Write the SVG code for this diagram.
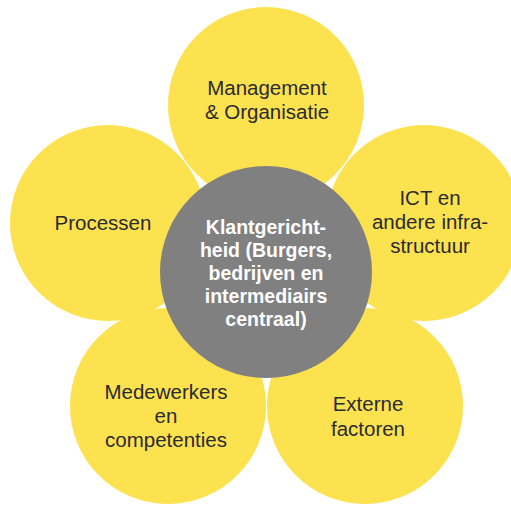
<svg xmlns="http://www.w3.org/2000/svg" width="511" height="509" viewBox="0 0 511 509">
<style>
.petal{fill:#FCE24E;}
.hub{fill:#808080;}
.lbl{font-family:"Liberation Sans","Noto Sans",Arial,sans-serif;font-size:20.5px;fill:#2A2A33;text-anchor:middle;}
.hubl{font-family:"Liberation Sans","Noto Sans",Arial,sans-serif;font-size:19.5px;font-weight:bold;fill:#FFFFFF;text-anchor:middle;}
</style>
<rect width="511" height="509" fill="#FFFFFF"/>
<g id="connectors"></g>
<g id="node-management">
<circle class="petal" cx="266" cy="105" r="98"/>
<text class="lbl" x="267" y="95">Management</text>
<text class="lbl" x="267" y="119">&amp; Organisatie</text>
</g>
<g id="node-processen">
<circle class="petal" cx="108" cy="223" r="98"/>
<text class="lbl" x="103" y="230">Processen</text>
</g>
<g id="node-ict">
<circle class="petal" cx="424" cy="223" r="98"/>
<text class="lbl" x="430" y="205">ICT en</text>
<text class="lbl" x="430" y="229">andere infra-</text>
<text class="lbl" x="430" y="253">structuur</text>
</g>
<g id="node-medewerkers">
<circle class="petal" cx="168" cy="406" r="98"/>
<text class="lbl" x="166" y="399">Medewerkers</text>
<text class="lbl" x="166" y="423">en</text>
<text class="lbl" x="166" y="447">competenties</text>
</g>
<g id="node-externe">
<circle class="petal" cx="365" cy="406" r="98"/>
<text class="lbl" x="368" y="411">Externe</text>
<text class="lbl" x="368" y="436">factoren</text>
</g>
<g id="node-klant">
<circle class="hub" cx="266" cy="272" r="106"/>
<text class="hubl" x="266" y="234">Klantgericht-</text>
<text class="hubl" x="266" y="257">heid (Burgers,</text>
<text class="hubl" x="266" y="280">bedrijven en</text>
<text class="hubl" x="266" y="303">intermediairs</text>
<text class="hubl" x="266" y="326">centraal)</text>
</g>
</svg>
